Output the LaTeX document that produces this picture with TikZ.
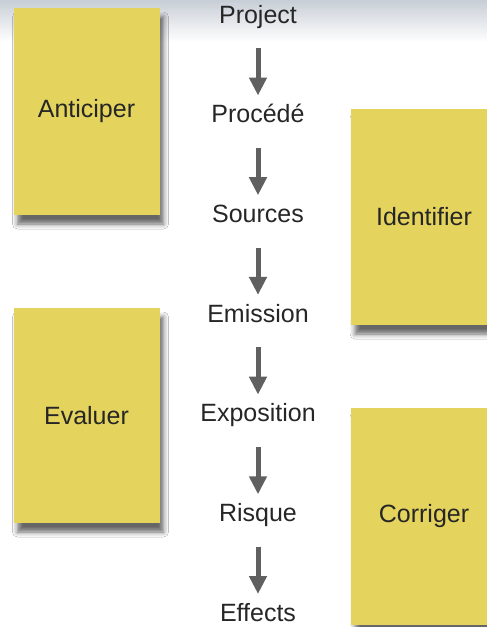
\documentclass[tikz,border=0pt]{standalone}
\usepackage{fontspec}
\setmainfont{Liberation Sans}
\usetikzlibrary{arrows.meta,shadows.blur}
\definecolor{postit}{RGB}{228,212,94}
\definecolor{arrowgray}{RGB}{96,96,96}
\definecolor{haze}{RGB}{200,206,214}
\tikzset{
  note/.style={fill=postit, minimum width=146pt, inner sep=0pt, text=black!85,
    font=\fontsize{25}{29}\selectfont,
    blur shadow={shadow xshift=4pt, shadow yshift=-9pt, shadow blur radius=5pt, shadow opacity=60}},
  stage/.style={anchor=base, inner sep=0pt, text height=18pt, text depth=2pt,
    text=black!85, font=\fontsize{25}{29}\selectfont},
  flow/.style={arrowgray, line width=5pt, -{Triangle[width=17pt,length=18pt]},
    shorten <=23pt, shorten >=9pt}
}

\begin{document}
\begin{tikzpicture}[x=1pt,y=-1pt]
\useasboundingbox (0,0) rectangle (487,627);
% background
\fill[white] (0,0) rectangle (487,627);
\shade[top color=haze, bottom color=white] (0,0) rectangle (487,42);

% the chain in the middle
\foreach \t [count=\i] in {Project,Procédé,Sources,Emission,Exposition,Risque,Effects}
  \node[stage] (s\i) at (258,{23+99.7*(\i-1)}) {\t};
\foreach \i in {1,...,6}{
  \pgfmathtruncatemacro\j{\i+1}
  \draw[flow] (s\i.south) -- (s\j.north);
}

% the four notes
\node[note, minimum height=207pt] (anticiper) at (86.5,111.5) {Anticiper};
\node[note, minimum height=216pt] (identifier) at (424,217) {Identifier};
\node[note, minimum height=215pt] (evaluer) at (86.5,415.5) {Evaluer};
\node[note, minimum height=217pt] (corriger) at (424,516.5) {Corriger};
\end{tikzpicture}
\end{document}
